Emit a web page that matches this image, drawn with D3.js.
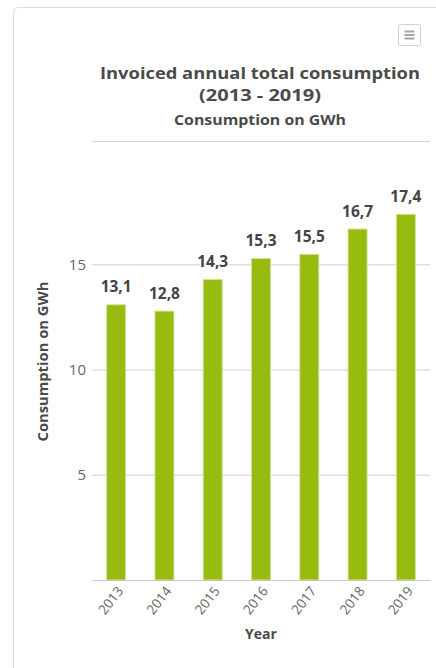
<!DOCTYPE html>
<html>
<head>
<meta charset="utf-8">
<script src="https://cdn.jsdelivr.net/npm/d3@7"></script>
<style>
  html, body { margin: 0; padding: 0; background: #fff; }
  svg { display: block; font-family: "Open Sans", "Noto Sans", sans-serif; }
</style>
</head>
<body>
<svg id="chart" width="436" height="668"></svg>
<script>
const years = ["2013", "2014", "2015", "2016", "2017", "2018", "2019"];
const consumption = [13.1, 12.8, 14.3, 15.3, 15.5, 16.7, 17.4];
const yTicks = [5, 10, 15];
const titleLines = ["Invoiced annual total consumption", "(2013 - 2019)"];
const subtitle = "Consumption on GWh";
const yAxisTitle = "Consumption on GWh";
const xAxisTitle = "Year";

const svg = d3.select("#chart");

// card
svg.append("rect")
  .attr("x", 13.5).attr("y", 7.5)
  .attr("width", 440).attr("height", 680)
  .attr("rx", 5)
  .attr("fill", "#fff").attr("stroke", "#dcdcdc");

// menu button
const mb = svg.append("g").attr("transform", "translate(398.5,24.5)");
mb.append("rect").attr("width", 22).attr("height", 21).attr("rx", 2)
  .attr("fill", "#fff").attr("stroke", "#cfcfcf");
[7, 10.5, 14].forEach(yy => {
  mb.append("line").attr("x1", 6).attr("x2", 16).attr("y1", yy).attr("y2", yy)
    .attr("stroke", "#a6a6a6").attr("stroke-width", 2);
});

// titles
const cx = 260;
svg.append("text").attr("x", cx).attr("y", 79)
  .attr("text-anchor", "middle").attr("font-size", 16).attr("font-weight", "bold")
  .attr("textLength", 320).attr("lengthAdjust", "spacingAndGlyphs")
  .attr("fill", "#4a4a4a").text(titleLines[0]);
svg.append("text").attr("x", cx).attr("y", 101)
  .attr("text-anchor", "middle").attr("font-size", 16).attr("font-weight", "bold")
  .attr("textLength", 122).attr("lengthAdjust", "spacingAndGlyphs")
  .attr("fill", "#4a4a4a").text(titleLines[1]);
svg.append("text").attr("x", cx).attr("y", 125)
  .attr("text-anchor", "middle").attr("font-size", 15).attr("font-weight", "bold")
  .attr("textLength", 172).attr("lengthAdjust", "spacingAndGlyphs")
  .attr("fill", "#4a4a4a").text(subtitle);

// separator
svg.append("line").attr("x1", 92).attr("x2", 430).attr("y1", 141.5).attr("y2", 141.5)
  .attr("stroke", "#d6d6d6").attr("stroke-width", 1);

// scales
const left = 92, right = 430, bottom = 580;
const x = d3.scaleBand().domain(years).range([left, right]).paddingInner(0).paddingOuter(0);
const y = d3.scaleLinear().domain([0, 15]).range([bottom, 264.3]);

// gridlines
const yAxis = d3.axisLeft(y).tickValues(yTicks).tickSize(-(right - left)).tickPadding(6);
const gy = svg.append("g").attr("transform", `translate(${left},0)`).call(yAxis);
gy.select(".domain").remove();
gy.selectAll(".tick line").attr("stroke", "#d0d0d0");
gy.selectAll(".tick text").attr("fill", "#666").attr("font-size", 15)
  .attr("font-family", "Open Sans, sans-serif");

// bars
const bw = 20;
svg.append("g").selectAll("rect").data(years).join("rect")
  .attr("x", (d) => x(d) + x.bandwidth() / 2 - bw / 2 + 0.5)
  .attr("y", (d, i) => y(consumption[i]) + 0.5)
  .attr("width", bw - 1)
  .attr("height", (d, i) => bottom - y(consumption[i]) - 0.5)
  .attr("fill", "#98bb0f")
  .attr("stroke", "#cfe29a").attr("stroke-width", 1);

// data labels
svg.append("g").selectAll("text").data(years).join("text")
  .attr("x", (d) => x(d) + x.bandwidth() / 2)
  .attr("y", (d, i) => y(consumption[i]) - 12)
  .attr("text-anchor", "middle")
  .attr("font-size", 15.5).attr("font-weight", "bold")
  .attr("fill", "#444")
  .attr("stroke", "#fff").attr("stroke-width", 2).attr("paint-order", "stroke")
  .text((d, i) => String(consumption[i]).replace(".", ","));

// x axis
const xAxis = d3.axisBottom(x).tickSize(0).tickPadding(0);
const gx = svg.append("g").attr("transform", `translate(0,${bottom})`).call(xAxis);
gx.select(".domain").attr("stroke", "#c8c8c8");
gx.selectAll(".tick text")
  .attr("fill", "#666").attr("font-size", 13.5)
  .attr("font-family", "Open Sans, sans-serif")
  .attr("text-anchor", "end")
  .attr("dy", null).attr("y", 0)
  .attr("transform", "translate(5,9) rotate(-52)")
  .attr("dominant-baseline", "middle");

// axis titles
svg.append("text")
  .attr("transform", `translate(48,${361.5}) rotate(-90)`)
  .attr("text-anchor", "middle").attr("font-size", 14).attr("font-weight", "bold")
  .attr("textLength", 160).attr("lengthAdjust", "spacingAndGlyphs")
  .attr("fill", "#4a4a4a").text(yAxisTitle);
svg.append("text").attr("x", (left + right) / 2).attr("y", 639)
  .attr("text-anchor", "middle").attr("font-size", 14).attr("font-weight", "bold")
  .attr("fill", "#4a4a4a").text(xAxisTitle);
</script>
</body>
</html>
